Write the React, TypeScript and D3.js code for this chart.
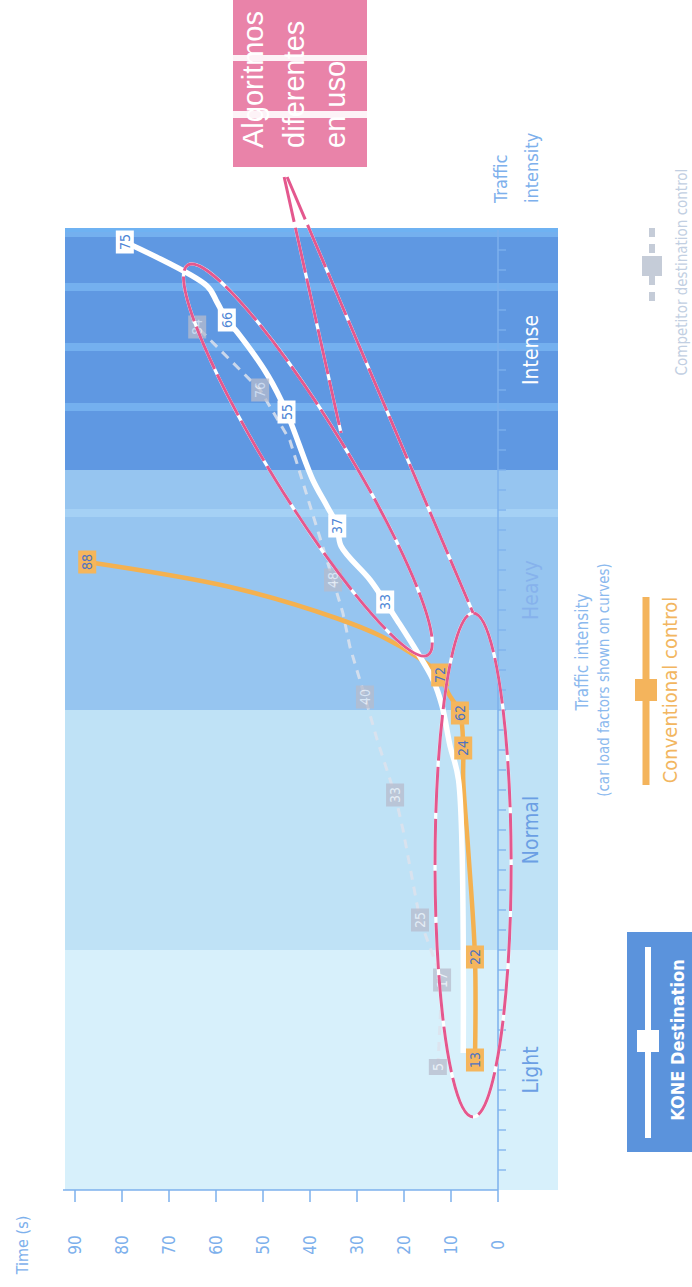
import React from 'react';
import * as d3 from 'd3';

const WIDTH = 692;
const HEIGHT = 1287;

// ---- axes ----
const timeDomain = [0, 90];
const timeTicks = [0, 10, 20, 30, 40, 50, 60, 70, 80, 90];
const intensityDomain = [0, 48];
const intensityTicks = d3.range(1, 48);

// ---- traffic bands ----
const bandNames = ['Light', 'Normal', 'Heavy', 'Intense'];
const bandFrom = [0, 12, 24, 36];
const bandTo = [12, 24, 36, 48];
const bandFills = ['#d7f0fb', '#bfe2f6', '#96c5f0', '#5f98e2'];
const bandLabelColors = ['#6b9fe4', '#6b9fe4', '#86b2ec', '#ffffff'];
const stripeAt = [47.85, 45.15, 42.15, 39.15, 33.85];

// ---- KONE Destination (white) ----
const koneIntensity = [6.85, 20.5, 22.2, 24.2, 25.5, 26.9, 28.5, 29.4, 30.5, 32.2, 33.2, 34.2, 35.5, 38.9, 40.7, 42.9, 43.5, 44.4, 45.2, 47.4];
const koneTime = [7.4, 8.4, 10.2, 11.9, 13.8, 17.2, 21.5, 24, 27.2, 33.4, 34.2, 36.4, 39.4, 45, 48.9, 55.5, 57.7, 59.8, 61.9, 79.4];
const koneLabels = [null, null, null, null, null, null, null, '33', null, null, '37', null, null, '55', null, null, '66', null, null, '75'];

// ---- Conventional control (orange) ----
const convIntensity = [6.5, 11.65, 17.2, 20.5, 22.1, 23.85, 24.85, 25.75, 26.65, 27.65, 28.6, 30.15, 31.4];
const convTime = [4.9, 4.9, 6.4, 7.4, 7.4, 8.1, 10.6, 12.3, 17.2, 24.5, 34.5, 57, 87.4];
const convLabels = ['13', '22', null, null, '24', '62', null, '72', null, null, null, null, '88'];

// ---- Competitor destination control (grey dashed) ----
const compIntensity = [6.15, 10.5, 13.5, 18, 19.75, 22.5, 24.65, 27.15, 28.85, 30.5, 37.5, 40, 43.15];
const compTime = [12.8, 11.9, 16.6, 20.2, 21.9, 25.7, 28.3, 31.5, 33, 35.1, 44.3, 50.6, 64];
const compLabels = ['5', '17', '25', null, '33', null, '40', null, null, '48', null, '76', '84'];

// ---- annotations (data anchors) ----
const ellipseA = { tCenter: 5.3, tHalf: 8.1, uTop: 28.85, uBottom: 3.65 };
const ellipseB = { t1: 66, u1: 46.25, t2: 14.9, u2: 26.75, halfWidthPx: 38 };
const pointerStart = [45.5, 50.65];
const pointerEnds = [[33.4, 37.85], [5.3, 28.85]];
const calloutLines = ['Algoritmos', 'diferentes', 'en uso'];

const condensed = "'Liberation Sans Narrow', 'DejaVu Sans Condensed', 'Roboto Condensed', Roboto, Arial, sans-serif";
const sans = "'Liberation Sans', Arial, Helvetica, sans-serif";

const PLOT_LEFT = 65;
const PLOT_RIGHT = 558;
const AXIS_BLUE = '#7db0ec';
const PINK = '#e4588e';

type Pt = { u: number; t: number; label: string | null };

function zip(us: number[], ts: number[], ls: (string | null)[]): Pt[] {
  return us.map((u, i) => ({ u, t: ts[i], label: ls[i] }));
}

export default function App() {
  const x = d3.scaleLinear().domain(timeDomain).range([498, 75]);
  const y = d3.scaleLinear().domain(intensityDomain).range([1190, 230]);

  const kone = zip(koneIntensity, koneTime, koneLabels);
  const conv = zip(convIntensity, convTime, convLabels);
  const comp = zip(compIntensity, compTime, compLabels);

  const smooth = d3
    .line<Pt>()
    .x((d) => x(d.t))
    .y((d) => y(d.u))
    .curve(d3.curveCatmullRom.alpha(0.5));
  const straight = d3
    .line<Pt>()
    .x((d) => x(d.t))
    .y((d) => y(d.u));

  const labelBox = (d: Pt, key: string, fill: string, color: string, opacity = 1) => {
    if (!d.label) return null;
    const h = 9 + 7 * d.label.length;
    const w = 18;
    return (
      <g key={key} transform={`translate(${x(d.t)},${y(d.u)})`} opacity={opacity}>
        <rect x={-w / 2} y={-h / 2} width={w} height={h} fill={fill} />
        <text
          transform="rotate(-90)"
          textAnchor="middle"
          dominantBaseline="central"
          fontFamily={condensed}
          fontSize={14}
          fill={color}
        >
          {d.label}
        </text>
      </g>
    );
  };

  // ellipse A
  const eaCx = x(ellipseA.tCenter);
  const eaCy = (y(ellipseA.uTop) + y(ellipseA.uBottom)) / 2;
  const eaRx = Math.abs(x(ellipseA.tCenter + ellipseA.tHalf) - x(ellipseA.tCenter));
  const eaRy = Math.abs(y(ellipseA.uTop) - y(ellipseA.uBottom)) / 2;
  // ellipse B
  const b1 = [x(ellipseB.t1), y(ellipseB.u1)];
  const b2 = [x(ellipseB.t2), y(ellipseB.u2)];
  const ebCx = (b1[0] + b2[0]) / 2;
  const ebCy = (b1[1] + b2[1]) / 2;
  const ebRx = Math.hypot(b2[0] - b1[0], b2[1] - b1[1]) / 2;
  const ebAng = (Math.atan2(b2[1] - b1[1], b2[0] - b1[0]) * 180) / Math.PI;

  const pinkStroke = (el: (p: any) => React.ReactNode, key: string) => (
    <g key={key}>
      {el({ stroke: '#ffffff', strokeWidth: 3.2, fill: 'none' })}
      {el({ stroke: PINK, strokeWidth: 3, fill: 'none', strokeDasharray: '46 6' })}
    </g>
  );

  const ps = [x(pointerStart[0]), y(pointerStart[1])];

  return (
    <svg
      width={WIDTH}
      height={HEIGHT}
      style={{ position: 'absolute', left: 0, top: 0, background: '#ffffff' }}
    >
      <rect x={0} y={0} width={WIDTH} height={HEIGHT} fill="#ffffff" />

      {/* bands */}
      {bandNames.map((name, i) => (
        <rect
          key={name}
          x={PLOT_LEFT}
          y={y(bandTo[i])}
          width={PLOT_RIGHT - PLOT_LEFT}
          height={y(bandFrom[i]) - y(bandTo[i])}
          fill={bandFills[i]}
        />
      ))}
      {stripeAt.map((u, i) => (
        <rect
          key={'s' + i}
          x={PLOT_LEFT}
          y={y(u) - 4}
          width={PLOT_RIGHT - PLOT_LEFT}
          height={8}
          fill={u > 36 ? '#79b6f3' : '#a9d3f6'}
          opacity={0.8}
        />
      ))}
      <rect x={PLOT_LEFT} y={y(48) - 2} width={PLOT_RIGHT - PLOT_LEFT} height={4} fill="#6fb2f2" />

      {/* band labels */}
      {bandNames.map((name, i) => (
        <text
          key={'bl' + name}
          transform={`translate(531,${y((bandFrom[i] + bandTo[i]) / 2)}) rotate(-90)`}
          textAnchor="middle"
          dominantBaseline="central"
          fontFamily={condensed}
          fontSize={21}
          fill={bandLabelColors[i]}
        >
          {name}
        </text>
      ))}

      {/* intensity axis */}
      <line x1={x(0)} x2={x(0)} y1={y(0)} y2={y(48)} stroke={AXIS_BLUE} strokeWidth={1.5} />
      {intensityTicks.map((u) => (
        <line key={'it' + u} x1={x(0)} x2={x(0) + 8} y1={y(u)} y2={y(u)} stroke={AXIS_BLUE} strokeWidth={1.3} />
      ))}

      {/* time axis */}
      <line x1={PLOT_LEFT - 2} x2={x(0)} y1={y(0)} y2={y(0)} stroke={AXIS_BLUE} strokeWidth={1.5} />
      {timeTicks.map((t) => (
        <g key={'tt' + t}>
          <line x1={x(t)} x2={x(t)} y1={y(0)} y2={y(0) + 12} stroke={AXIS_BLUE} strokeWidth={1.5} />
          <text
            transform={`translate(${x(t)},1245) rotate(-90)`}
            textAnchor="middle"
            dominantBaseline="central"
            fontFamily={condensed}
            fontSize={17}
            fill={AXIS_BLUE}
          >
            {t}
          </text>
        </g>
      ))}
      <text
        transform="translate(22,1245) rotate(-90)"
        textAnchor="middle"
        dominantBaseline="central"
        fontFamily={condensed}
        fontSize={16}
        fill={AXIS_BLUE}
      >
        Time (s)
      </text>
      <text
        transform="translate(500,203) rotate(-90)"
        textAnchor="start"
        dominantBaseline="central"
        fontFamily={condensed}
        fontSize={18}
        fill={AXIS_BLUE}
      >
        Traffic
      </text>
      <text
        transform="translate(531,203) rotate(-90)"
        textAnchor="start"
        dominantBaseline="central"
        fontFamily={condensed}
        fontSize={18}
        fill={AXIS_BLUE}
      >
        intensity
      </text>

      {/* competitor line */}
      <path d={straight(comp) || ''} fill="none" stroke="#dde2ec" strokeWidth={3} strokeDasharray="9 7" opacity={0.85} />
      {/* conventional line */}
      <path d={smooth(conv) || ''} fill="none" stroke="#f4b150" strokeWidth={4.5} strokeLinejoin="round" />
      {/* kone line */}
      <path d={smooth(kone) || ''} fill="none" stroke="#ffffff" strokeWidth={5.5} strokeLinejoin="round" />

      {comp.map((d, i) => labelBox(d, 'cl' + i, '#b7bccd', '#eef1f7', 0.75))}
      {conv.map((d, i) => labelBox(d, 'vl' + i, '#f5b65c', '#4f73c2'))}
      {kone.map((d, i) => labelBox(d, 'kl' + i, '#ffffff', '#4f86d6'))}

      {/* annotations */}
      {pinkStroke((p) => <ellipse cx={eaCx} cy={eaCy} rx={eaRx} ry={eaRy} {...p} />, 'ea')}
      {pinkStroke(
        (p) => (
          <ellipse cx={ebCx} cy={ebCy} rx={ebRx} ry={ellipseB.halfWidthPx} transform={`rotate(${ebAng},${ebCx},${ebCy})`} {...p} />
        ),
        'eb'
      )}
      {pointerEnds.map((pe, i) =>
        pinkStroke((p) => <line x1={ps[0] + i * 3} y1={ps[1]} x2={x(pe[0])} y2={y(pe[1])} {...p} />, 'pp' + i)
      )}

      {/* callout */}
      <rect x={233} y={-10} width={134} height={177} fill="#e983a9" />
      {calloutLines.map((s, i) => (
        <text
          key={'co' + i}
          transform={`translate(${263 + i * 41},148) rotate(-90)`}
          textAnchor="start"
          fontFamily={sans}
          fontSize={29}
          fill="#ffffff"
        >
          {s}
        </text>
      ))}
      <rect x={233} y={55} width={134} height={6} fill="#ffffff" opacity={0.9} />
      <rect x={233} y={111} width={134} height={7} fill="#ffffff" opacity={0.9} />

      {/* legend: traffic intensity note */}
      <text
        transform="translate(582,652) rotate(-90)"
        textAnchor="middle"
        dominantBaseline="central"
        fontFamily={condensed}
        fontSize={17}
        fill="#8bb9ee"
      >
        Traffic intensity
      </text>
      <text
        transform="translate(604,680) rotate(-90)"
        textAnchor="middle"
        dominantBaseline="central"
        fontFamily={condensed}
        fontSize={15}
        fill="#8bb9ee"
      >
        (car load factors shown on curves)
      </text>

      {/* legend: conventional */}
      <line x1={646} x2={646} y1={597} y2={785} stroke="#f4b45c" strokeWidth={7} />
      <rect x={635} y={679} width={22} height={22} fill="#f4b45c" />
      <text
        transform="translate(670,690) rotate(-90)"
        textAnchor="middle"
        dominantBaseline="central"
        fontFamily={condensed}
        fontSize={20}
        fill="#f2b660"
      >
        Conventional control
      </text>

      {/* legend: KONE */}
      <rect x={627} y={932} width={70} height={220} fill="#5b93dc" />
      <line x1={648} x2={648} y1={947} y2={1138} stroke="#ffffff" strokeWidth={6} />
      <rect x={637} y={1030} width={22} height={22} fill="#ffffff" />
      <text
        transform="translate(677,1040) rotate(-90)"
        textAnchor="middle"
        dominantBaseline="central"
        fontFamily={condensed}
        fontWeight="bold"
        fontSize={18}
        fill="#ffffff"
      >
        KONE Destination
      </text>

      {/* legend: competitor */}
      <line x1={652} x2={652} y1={228} y2={305} stroke="#c5ccd8" strokeWidth={6} strokeDasharray="9 7" />
      <rect x={642} y={256} width={20} height={20} fill="#c5ccd8" />
      <text
        transform="translate(682,272) rotate(-90)"
        textAnchor="middle"
        dominantBaseline="central"
        fontFamily={condensed}
        fontSize={15}
        fill="#c2cfe2"
      >
        Competitor destination control
      </text>
    </svg>
  );
}
